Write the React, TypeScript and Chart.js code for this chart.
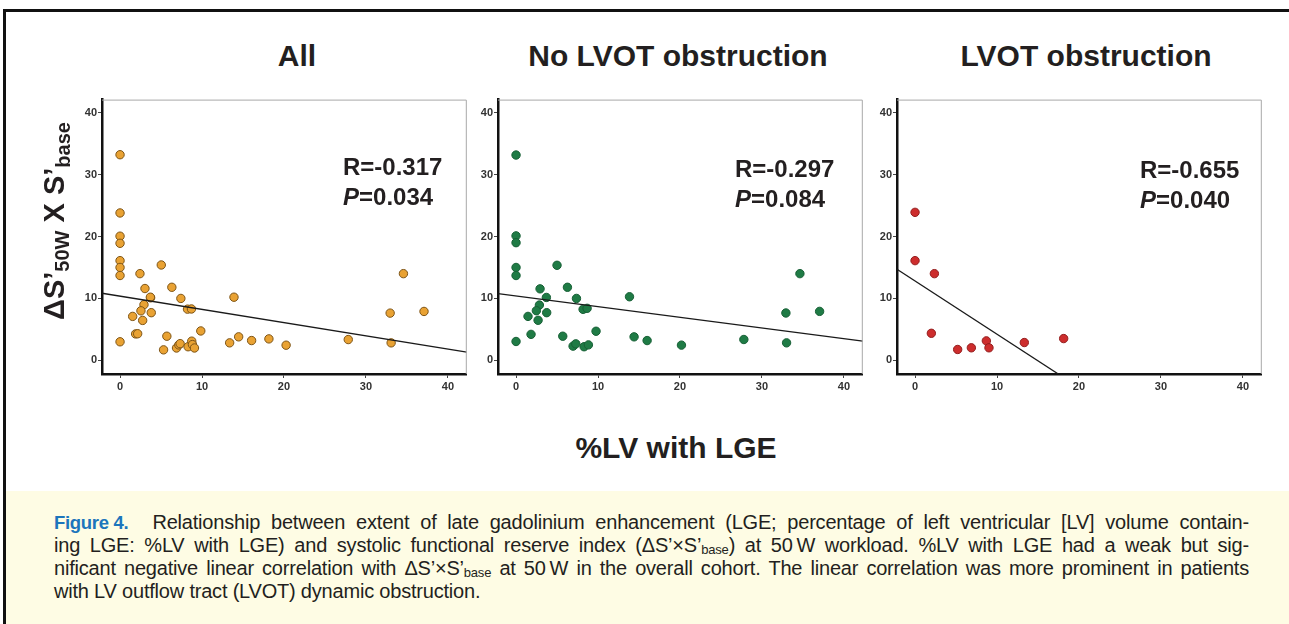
import React, { useEffect, useRef } from "react";
import { Chart, registerables } from "chart.js";
Chart.register(...registerables);

// ---------- data ----------
const X_TICKS = [0, 10, 20, 30, 40];
const Y_TICKS = [0, 10, 20, 30, 40];
const X_MIN = -2.2;
const X_MAX = 42.3;
const Y_MIN = -2.2;
const Y_MAX = 42.1;

const PANEL_TITLES = ["All", "No LVOT obstruction", "LVOT obstruction"];
const R_LABELS = ["R=-0.317", "R=-0.297", "R=-0.655"];
const P_LABELS = ["=0.034", "=0.084", "=0.040"];

const ALL_POINTS: [number, number][] = [
  [0, 33.2], [0, 23.8], [0, 20.05], [0, 18.9], [0, 16.1], [0, 15.0], [0, 13.7], [0, 3.0],
  [2.43, 14.0], [5.03, 15.4], [3.04, 11.6], [6.32, 11.8], [3.73, 10.1], [3.7, 10.2], [7.42, 10.0],
  [2.92, 9.0], [2.55, 8.0], [3.81, 7.7], [1.54, 7.1], [2.76, 6.45], [8.23, 8.27], [8.71, 8.3],
  [1.9, 4.27], [2.15, 4.3], [5.71, 3.9], [5.31, 1.7], [6.89, 2.0], [7.17, 2.5], [7.33, 2.7],
  [8.3, 2.2], [8.75, 3.1], [8.83, 2.55], [9.08, 2.0], [9.85, 4.75], [13.9, 10.2], [13.37, 2.83],
  [14.47, 3.8], [16.05, 3.2], [18.16, 3.47], [20.26, 2.45], [27.84, 3.36], [32.95, 7.63],
  [33.07, 2.83], [34.57, 14.0], [37.08, 7.9],
];
const NO_OBS_POINTS: [number, number][] = [
  [0, 33.15], [0, 20.1], [0, 19.0], [0, 15.0], [0, 13.7], [0, 3.05],
  [5.0, 15.35], [2.93, 11.55], [6.27, 11.8], [3.7, 10.16], [7.37, 10.0], [2.85, 8.93],
  [2.48, 8.02], [3.74, 7.7], [1.46, 7.1], [2.69, 6.47], [8.18, 8.24], [8.67, 8.4],
  [1.83, 4.2], [5.7, 3.9], [6.96, 2.3], [7.29, 2.67], [8.3, 2.2], [8.83, 2.5], [9.76, 4.7],
  [13.84, 10.27], [14.4, 3.8], [15.99, 3.2], [20.18, 2.46], [27.79, 3.37], [32.92, 7.65],
  [33.0, 2.83], [34.63, 14.0], [37.03, 7.91],
];
const OBS_POINTS: [number, number][] = [
  [0, 23.9], [0, 16.1], [2.36, 14.0], [1.99, 4.37], [5.2, 1.76], [6.87, 2.03],
  [8.7, 3.15], [9.02, 2.03], [13.33, 2.88], [18.13, 3.52],
];
// regression fits: [intercept, slope]
const FITS: [number, number][] = [
  [10.37, -0.2135],
  [10.41, -0.1728],
  [12.81, -0.859],
];

const CAPTION_LINES = [
  "Relationship between extent of late gadolinium enhancement (LGE; percentage of left ventricular [LV] volume contain-",
  "ing LGE: %LV with LGE) and systolic functional reserve index (ΔS’×S’{base}) at 50\u2009W workload. %LV with LGE had a weak but sig-",
  "nificant negative linear correlation with ΔS’×S’{base} at 50\u2009W in the overall cohort. The linear correlation was more prominent in patients",
  "with LV outflow tract (LVOT) dynamic obstruction.",
];

// ---------- styles ----------
const PANELS = [
  { left: 62, points: ALL_POINTS, fill: "#E9A233", stroke: "#7d5416", rLeft: 343, rTop: 152, titleC: 297 },
  { left: 458, points: NO_OBS_POINTS, fill: "#1F7B45", stroke: "#175f35", rLeft: 735, rTop: 154, titleC: 678 },
  { left: 857, points: OBS_POINTS, fill: "#CD2D2D", stroke: "#931d1d", rLeft: 1140, rTop: 155, titleC: 1086 },
];
const FONT = "'Liberation Sans', Arial, Helvetica, sans-serif";
const CANVAS_TOP = 92;
const CANVAS_W = 410;
const CANVAS_H = 306;

function fitLine(b: number, m: number) {
  let x0 = X_MIN, y0 = b + m * X_MIN;
  if (y0 > Y_MAX) { y0 = Y_MAX; x0 = (Y_MAX - b) / m; }
  let x1 = X_MAX, y1 = b + m * X_MAX;
  if (y1 < Y_MIN) { y1 = Y_MIN; x1 = (Y_MIN - b) / m; }
  return [{ x: x0, y: y0 }, { x: x1, y: y1 }];
}

const framePlugin = {
  id: "frame",
  afterDraw(chart: any) {
    const { ctx, chartArea: a } = chart;
    ctx.save();
    ctx.strokeStyle = "#a8a8a8";
    ctx.lineWidth = 1;
    ctx.beginPath();
    ctx.moveTo(a.left, a.top + 0.5);
    ctx.lineTo(a.right - 0.5, a.top + 0.5);
    ctx.lineTo(a.right - 0.5, a.bottom);
    ctx.stroke();
    ctx.restore();
  },
};

function Panel({ idx }: { idx: number }) {
  const ref = useRef<HTMLCanvasElement>(null);
  useEffect(() => {
    const p = PANELS[idx];
    const [b, m] = FITS[idx];
    const tickFont = { family: FONT, size: 11, weight: "bold" as const };
    const chart = new Chart(ref.current!, {
      type: "scatter",
      data: {
        datasets: [
          {
            data: p.points.map(([x, y]) => ({ x, y })),
            backgroundColor: p.fill,
            borderColor: p.stroke,
            borderWidth: 1,
            pointRadius: 4.2,
            order: 1,
          },
          {
            type: "line",
            data: fitLine(b, m),
            borderColor: "#1a1a1a",
            borderWidth: 1.3,
            pointRadius: 0,
            showLine: true,
            fill: false,
            order: 0,
          } as any,
        ],
      },
      options: {
        animation: false,
        responsive: false,
        maintainAspectRatio: false,
        devicePixelRatio: 1,
        layout: { padding: { top: 5, right: 4, left: 0, bottom: 0 } },
        plugins: { legend: { display: false }, tooltip: { enabled: false }, title: { display: false } },
        scales: {
          x: {
            type: "linear",
            min: X_MIN,
            max: X_MAX,
            afterBuildTicks: (s: any) => { s.ticks = X_TICKS.map((v) => ({ value: v })); },
            afterFit: (s: any) => { s.height = 24; },
            ticks: { font: tickFont, color: "#333", padding: 2, maxRotation: 0, autoSkip: false },
            grid: { display: true, drawOnChartArea: false, drawTicks: true, tickLength: 4, color: "#444", lineWidth: 1 },
            border: { display: true, color: "#111", width: 2.5 },
          },
          y: {
            type: "linear",
            min: Y_MIN,
            max: Y_MAX,
            afterBuildTicks: (s: any) => { s.ticks = Y_TICKS.map((v) => ({ value: v })); },
            afterFit: (s: any) => { s.width = 40; },
            ticks: { font: tickFont, color: "#333", padding: 1, autoSkip: false },
            grid: { display: true, drawOnChartArea: false, drawTicks: true, tickLength: 4, color: "#444", lineWidth: 1 },
            border: { display: true, color: "#111", width: 2.5 },
          },
        },
      },
      plugins: [framePlugin],
    });
    return () => chart.destroy();
  }, [idx]);
  const p = PANELS[idx];
  return (
    <>
      <canvas
        ref={ref}
        width={CANVAS_W}
        height={CANVAS_H}
        style={{ position: "absolute", left: p.left, top: CANVAS_TOP, width: CANVAS_W, height: CANVAS_H }}
      />
      <div
        style={{
          position: "absolute", left: p.titleC - 250, width: 500, top: 41, textAlign: "center",
          font: `bold 30px ${FONT}`, lineHeight: "30px", color: "#231f20", whiteSpace: "nowrap",
        }}
      >
        {PANEL_TITLES[idx]}
      </div>
      <div
        style={{
          position: "absolute", left: p.rLeft, top: p.rTop, font: `bold 24px ${FONT}`,
          lineHeight: "30px", color: "#231f20", whiteSpace: "nowrap",
        }}
      >
        {R_LABELS[idx]}
        <br />
        <i>P</i>
        {P_LABELS[idx]}
      </div>
    </>
  );
}

function CaptionLine({ text, justify }: { text: string; justify: boolean }) {
  const parts = text.split("{base}");
  return (
    <div
      style={{
        textAlign: justify ? "justify" : "left",
        textAlignLast: justify ? "justify" : "left",
        whiteSpace: "nowrap",
        height: 23,
        lineHeight: "23px",
      } as any}
    >
      {parts.map((t, i) => (
        <React.Fragment key={i}>
          {t}
          {i < parts.length - 1 && (
            <span style={{ fontSize: 13, verticalAlign: -2, lineHeight: 0 }}>base</span>
          )}
        </React.Fragment>
      ))}
    </div>
  );
}

export default function App() {
  return (
    <div
      style={{
        position: "fixed", left: 0, top: 0, width: 1289, height: 624, background: "#fff",
        overflow: "hidden", fontFamily: FONT,
      }}
    >
      {/* frame */}
      <div style={{ position: "absolute", left: 3, top: 9, width: 1300, height: 3, background: "#111" }} />
      <div style={{ position: "absolute", left: 3, top: 9, width: 2.5, height: 620, background: "#111" }} />
      {/* caption background */}
      <div style={{ position: "absolute", left: 5.5, top: 491, width: 1290, height: 140, background: "#FEFCE4" }} />

      {[0, 1, 2].map((i) => <Panel key={i} idx={i} />)}

      {/* y axis title */}
      <div
        style={{
          position: "absolute", left: 58 - 130, top: 221 - 20, width: 260, height: 40, lineHeight: "40px",
          textAlign: "center", transform: "rotate(-90deg)", font: `bold 29px ${FONT}`, color: "#231f20",
          whiteSpace: "nowrap",
        }}
      >
        ΔS’<span style={{ fontSize: 20, verticalAlign: -5 }}>50W</span> X S’<span style={{ fontSize: 20, verticalAlign: -6 }}>base</span>
      </div>
      {/* x axis title */}
      <div
        style={{
          position: "absolute", left: 676 - 200, width: 400, top: 433, textAlign: "center",
          font: `bold 30px ${FONT}`, lineHeight: "30px", color: "#231f20", whiteSpace: "nowrap",
        }}
      >
        %LV with LGE
      </div>

      {/* caption */}
      <div
        style={{
          position: "absolute", left: 54, top: 511, width: 1195, fontSize: 20, lineHeight: "23px",
          color: "#231f20", fontFamily: FONT, letterSpacing: -0.2,
        }}
      >
        <div style={{ display: "flex", whiteSpace: "nowrap", height: 23 }}>
          <span style={{ color: "#1c75bc", fontWeight: "bold", fontSize: 18.5, marginRight: 24, letterSpacing: -0.3 }}>Figure 4.</span>
          <div style={{ flex: 1 }}>
            <CaptionLine text={CAPTION_LINES[0]} justify />
          </div>
        </div>
        <CaptionLine text={CAPTION_LINES[1]} justify />
        <CaptionLine text={CAPTION_LINES[2]} justify />
        <CaptionLine text={CAPTION_LINES[3]} justify={false} />
      </div>
    </div>
  );
}
